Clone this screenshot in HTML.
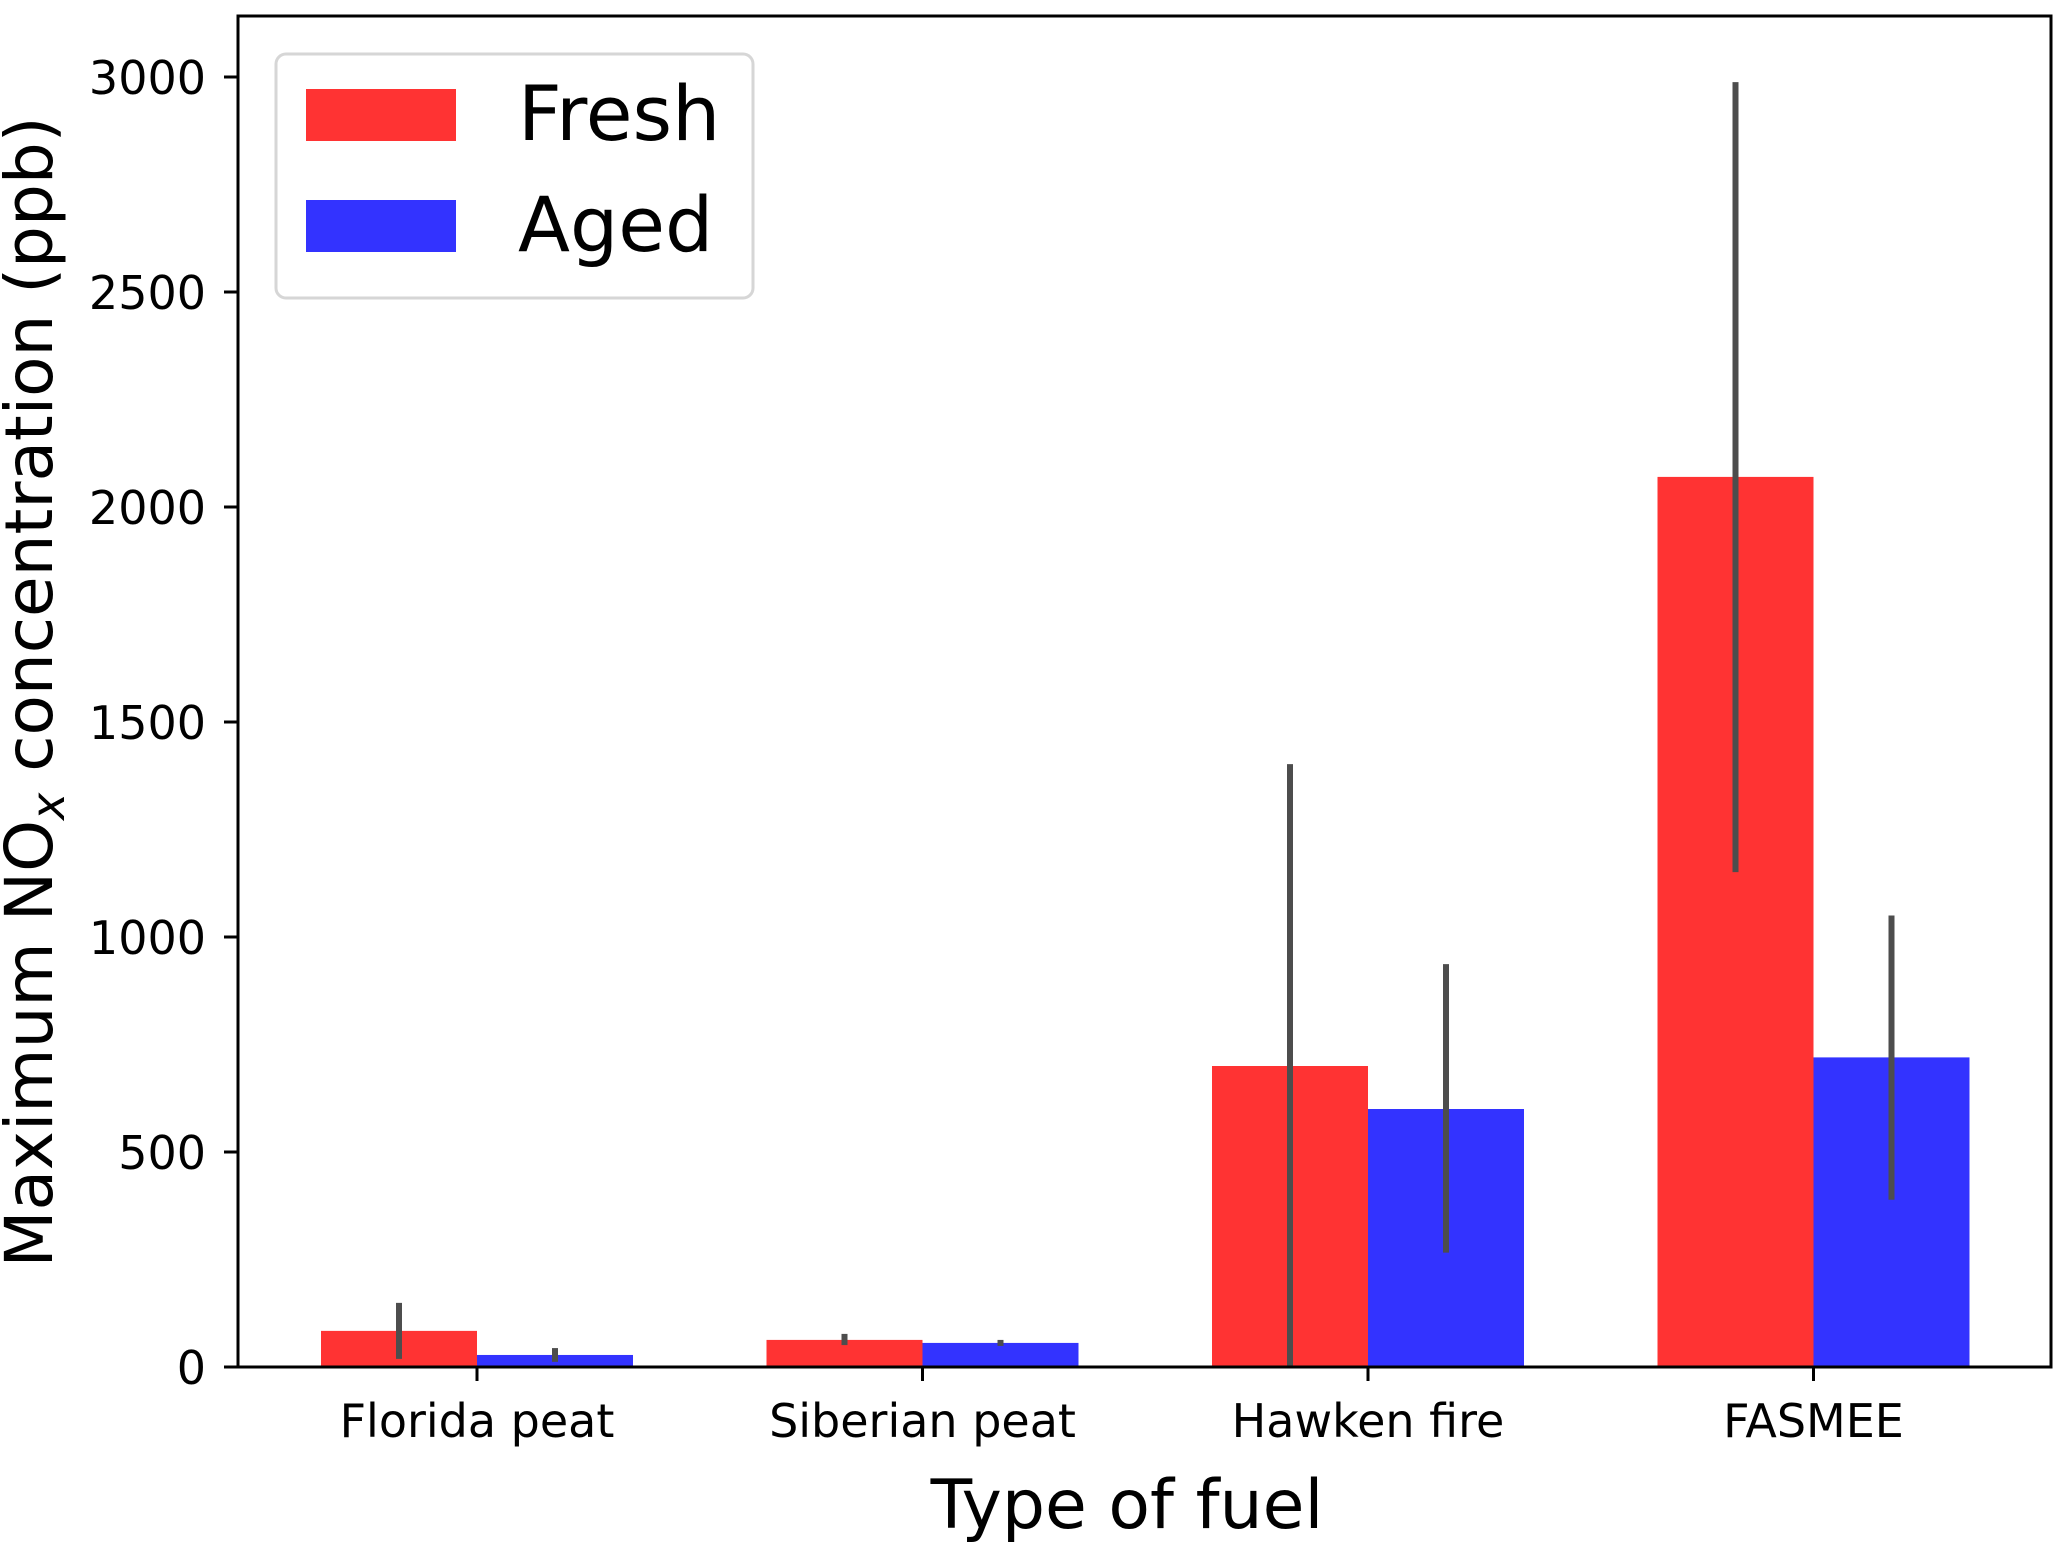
<!DOCTYPE html>
<html><head><meta charset="utf-8"><style>
html,body{margin:0;padding:0;background:#fff;}
svg{display:block;font-family:"DejaVu Sans","Liberation Sans",sans-serif;}
</style></head><body>
<svg id="chart" width="2067" height="1543" viewBox="0 0 2067 1543" xmlns="http://www.w3.org/2000/svg">
<g id="bars"></g>
<g id="errs"></g>
<rect x="238" y="16" width="1813" height="1351" fill="none" stroke="#000" stroke-width="3"/>
<g id="yticks"></g>
<g id="xticks"></g>
<text transform="translate(52,692) rotate(-90)" text-anchor="middle" font-size="66">Maximum NO<tspan font-size="46" dy="12" font-style="italic">x</tspan><tspan dy="-12"> concentration (ppb)</tspan></text>
<text x="1127" y="1528" text-anchor="middle" font-size="68">Type of fuel</text>
<g>
<rect x="276" y="54" width="477" height="244" rx="10" fill="#fff" stroke="#d6d6d6" stroke-width="3"/>
<rect x="306" y="89" width="150" height="52" fill="#ff3333"/>
<text x="518" y="140" font-size="76">Fresh</text>
<rect x="306" y="200" width="150" height="52" fill="#3333ff"/>
<text x="518" y="251" font-size="76">Aged</text>
</g>
</svg>
<script>
const categories = ["Florida peat","Siberian peat","Hawken fire","FASMEE"];
const freshValues = [84, 63, 700, 2070];
const freshErrLow = [19, 51, 0, 1151];
const freshErrHigh = [149, 77, 1402, 2988];
const agedValues = [28, 56, 600, 720];
const agedErrLow = [12, 49, 266, 389];
const agedErrHigh = [44, 63, 937, 1050];
const yTicks = [0, 500, 1000, 1500, 2000, 2500, 3000];

const NS = "http://www.w3.org/2000/svg";
const y0 = 1367, pxPer = 215/500;
function yScale(v){ return y0 - v*pxPer; }
function xScale(i){ return 477 + i*445.5; }
const bw = 156;
function mk(tag, attrs, parent){
  const e = document.createElementNS(NS, tag);
  for (const k in attrs) e.setAttribute(k, attrs[k]);
  parent.appendChild(e); return e;
}
const bars = document.getElementById('bars');
const errs = document.getElementById('errs');
const yt = document.getElementById('yticks');
const xt = document.getElementById('xticks');
categories.forEach((c, i) => {
  const cx = xScale(i);
  const f = mk('rect', {x: cx - bw, y: yScale(freshValues[i]), width: bw, height: y0 - yScale(freshValues[i]), fill: '#ff3333'}, bars);
  
  
  const a = mk('rect', {x: cx, y: yScale(agedValues[i]), width: bw, height: y0 - yScale(agedValues[i]), fill: '#3333ff'}, bars);
  
  
  const e1 = mk('line', {x1: cx - bw/2, x2: cx - bw/2, y1: yScale(freshErrLow[i]), y2: yScale(freshErrHigh[i]), stroke: '#4d4d4d', 'stroke-width': 6}, errs);
  
  
  const e2 = mk('line', {x1: cx + bw/2, x2: cx + bw/2, y1: yScale(agedErrLow[i]), y2: yScale(agedErrHigh[i]), stroke: '#4d4d4d', 'stroke-width': 6}, errs);
  
  
  const tk = mk('line', {x1: cx, x2: cx, y1: y0, y2: y0 + 14, stroke: '#000', 'stroke-width': 3}, xt);
  
  
  const tl = mk('text', {x: cx, y: 1437, 'text-anchor': 'middle', 'font-size': 46}, xt);
  
  
  tl.textContent = c;
});
yTicks.forEach(v => {
  const y = yScale(v);
  const tk = mk('line', {x1: 224, x2: 238, y1: y, y2: y, stroke: '#000', 'stroke-width': 3}, yt);
  
  
  const tl = mk('text', {x: 206, y: y + 17, 'text-anchor': 'end', 'font-size': 46}, yt);
  
  
  tl.textContent = v;
});
</script>
</body></html>
